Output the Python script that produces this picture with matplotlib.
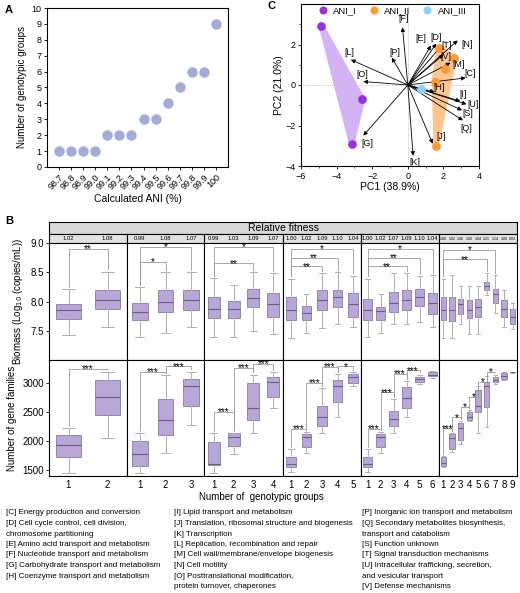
import numpy as np
import matplotlib
matplotlib.use("Agg")
import matplotlib.pyplot as plt
from matplotlib.patches import Polygon

plt.rcParams["font.family"] = ["Liberation Sans", "DejaVu Sans"]
plt.rcParams["axes.linewidth"] = 0.8

# ---------------- data ----------------
# panel A
ani_labels = ["98.7", "98.8", "98.9", "99.0", "99.1", "99.2", "99.3",
              "99.4", "99.5", "99.6", "99.7", "99.8", "99.9", "100"]
n_groups = [1, 1, 1, 1, 2, 2, 2, 3, 3, 4, 5, 6, 6, 9]

# panel C
ani1_pts = [(-4.85, 2.9), (-2.55, -0.7), (-3.15, -2.9)]
ani2_pts = [(1.75, 1.85), (2.6, 1.35), (2.1, 0.8), (1.5, 0.15), (1.6, -3.0)]
ani3_pts = [(0.75, -0.2)]
cog_codes = ["C", "D", "E", "F", "G", "H", "I", "J", "K", "L",
             "M", "N", "O", "P", "Q", "S", "T", "U", "V"]
load_x = [3.25, 1.6, 1.3, -0.3, -2.5, 1.5, 2.95, 1.4, 0.3, -3.2,
          2.4, 2.8, -2.5, -0.9, 3.1, 3.05, 1.85, 3.3, 2.0]
load_y = [0.35, 2.05, 1.95, 2.85, -2.5, -0.35, -0.8, -2.9, -3.5, 1.25,
          1.1, 2.2, 0.17, 1.35, -1.75, -1.25, 1.9, -0.95, 1.5]

# panel B: (whisker low, q1, median, q3, whisker high)
biomass = [
    [(7.43, 7.70, 7.85, 7.96, 8.21), (7.56, 7.87, 8.03, 8.20, 8.51)],
    [(7.40, 7.68, 7.82, 7.97, 8.25), (7.47, 7.82, 8.00, 8.20, 8.50),
     (7.57, 7.85, 8.02, 8.19, 8.50)],
    [(7.40, 7.72, 7.88, 8.08, 8.40), (7.40, 7.72, 7.87, 8.01, 8.28),
     (7.50, 7.90, 8.06, 8.22, 8.50), (7.45, 7.74, 7.96, 8.15, 8.48)],
    [(7.38, 7.69, 7.86, 8.07, 8.39), (7.47, 7.69, 7.81, 7.92, 8.12),
     (7.54, 7.85, 8.02, 8.19, 8.48), (7.62, 7.90, 8.07, 8.20, 8.50),
     (7.56, 7.74, 7.95, 8.14, 8.44)],
    [(7.40, 7.69, 7.86, 8.05, 8.39), (7.47, 7.69, 7.83, 7.91, 8.12),
     (7.62, 7.82, 7.98, 8.16, 8.48), (7.62, 7.86, 8.03, 8.19, 8.48),
     (7.65, 7.93, 8.07, 8.22, 8.43), (7.56, 7.78, 7.97, 8.14, 8.45)],
    [(7.38, 7.69, 7.86, 8.07, 8.39), (7.38, 7.66, 7.86, 8.07, 8.45),
     (7.62, 7.79, 7.95, 8.05, 8.27), (7.45, 7.71, 7.86, 8.03, 8.26),
     (7.45, 7.74, 7.90, 8.05, 8.27), (8.11, 8.19, 8.26, 8.34, 8.48),
     (7.81, 7.98, 8.12, 8.22, 8.45), (7.56, 7.74, 7.88, 8.03, 8.20),
     (7.53, 7.62, 7.74, 7.88, 7.98)],
]
gene_fam = [
    [(1460, 1720, 1930, 2100, 2230), (2060, 2450, 2770, 3050, 3200)],
    [(1460, 1580, 1780, 2010, 2150), (1800, 2100, 2370, 2720, 3140),
     (2280, 2610, 2960, 3080, 3200)],
    [(1460, 1590, 1610, 1980, 2140), (1780, 1910, 2080, 2140, 2150),
     (2140, 2370, 2580, 3010, 3150), (2570, 2760, 3020, 3100, 3190)],
    [(1470, 1550, 1600, 1720, 1860), (1790, 1900, 2080, 2120, 2160),
     (2140, 2260, 2410, 2600, 2910), (2410, 2670, 2960, 3050, 3160),
     (2950, 3000, 3100, 3160, 3190)],
    [(1470, 1550, 1600, 1720, 1860), (1790, 1900, 2080, 2120, 2160),
     (2140, 2260, 2380, 2520, 2720), (2410, 2570, 2740, 2930, 3030),
     (2980, 3020, 3070, 3100, 3150), (3090, 3120, 3150, 3190, 3210)],
    [(1560, 1570, 1620, 1720, 1740), (1820, 1860, 2050, 2120, 2140),
     (1950, 2020, 2220, 2310, 2350), (2340, 2360, 2410, 2500, 2530),
     (2150, 2500, 2600, 2880, 2960), (2240, 2590, 2960, 3020, 3120),
     (2990, 3020, 3060, 3100, 3150), (3050, 3070, 3120, 3170, 3190),
     (3180, 3185, 3190, 3195, 3200)],
]
fitness = [
    [1.02, 1.08],
    [0.99, 1.08, 1.07],
    [0.99, 1.03, 1.09, 1.07],
    [1.00, 1.02, 1.09, 1.10, 1.04],
    [1.00, 1.02, 1.07, 1.09, 1.10, 1.04],
    [1.00, 1.02, 1.06, 1.00, 1.04, 1.21, 1.14, 1.00, 0.93],
]
# significance: (group a, group b, bracket height, label)
sig_biomass = [
    [(1, 2, 8.90, "**")],
    [(1, 2, 8.68, "*"), (1, 3, 8.93, "*")],
    [(1, 3, 8.65, "**"), (1, 4, 8.93, "*")],
    [(1, 3, 8.60, "**"), (1, 4, 8.75, "**"), (1, 5, 8.90, "*")],
    [(1, 4, 8.60, "**"), (1, 5, 8.75, "**"), (1, 6, 8.90, "*")],
    [(1, 6, 8.72, "**"), (1, 7, 8.88, "*")],
]
sig_genes = [
    [(1, 2, 3240, "***")],
    [(1, 2, 3190, "***"), (2, 3, 3290, "***")],
    [(1, 2, 2500, "***"), (2, 3, 3260, "***"), (3, 4, 3330, "***")],
    [(1, 2, 2210, "***"), (2, 3, 3000, "***"), (3, 4, 3280, "***"), (4, 5, 3290, "*")],
    [(1, 2, 2210, "***"), (2, 3, 2840, "***"), (3, 4, 3160, "***"), (4, 5, 3220, "***")],
    [(1, 2, 2220, "***"), (2, 3, 2410, "*"), (3, 4, 2590, "*"), (4, 5, 2760, "*"),
     (5, 6, 3020, "*"), (6, 7, 3190, "*")],
]

cog_desc_1 = ["[C] Energy production and conversion",
              "[D] Cell cycle control, cell division,",
              "chromosome partitioning",
              "[E] Amino acid transport and metabolism",
              "[F] Nucleotide transport and metabolism",
              "[G] Carbohydrate transport and metabolism",
              "[H] Coenzyme transport and metabolism"]
cog_desc_2 = ["[I] Lipid transport and metabolism",
              "[J] Translation, ribosomal structure and biogenesis",
              "[K] Transcription",
              "[L] Replication, recombination and repair",
              "[M] Cell wall/membrane/envelope biogenesis",
              "[N] Cell motility",
              "[O] Posttranslational modification,",
              "protein turnover, chaperones"]
cog_desc_3 = ["[P] Inorganic ion transport and metabolism",
              "[Q] Secondary metabolites biosynthesis,",
              "transport and catabolism",
              "[S] Function unknown",
              "[T] Signal transduction mechanisms",
              "[U] Intracellular trafficking, secretion,",
              "and vesicular transport",
              "[V] Defense mechanisms"]

# ---------------- layout helpers ----------------
W, H = 520, 593
fig = plt.figure(figsize=(W / 100, H / 100), dpi=100)


def box(x0, y0, x1, y1):
    return [x0 / W, 1 - y1 / H, (x1 - x0) / W, (y1 - y0) / H]


def convex_hull(pts):
    pts = sorted(set(pts))
    if len(pts) < 3:
        return pts
    def cross(o, a, b):
        return (a[0] - o[0]) * (b[1] - o[1]) - (a[1] - o[1]) * (b[0] - o[0])
    lower, upper = [], []
    for p in pts:
        while len(lower) >= 2 and cross(lower[-2], lower[-1], p) <= 0:
            lower.pop()
        lower.append(p)
    for p in reversed(pts):
        while len(upper) >= 2 and cross(upper[-2], upper[-1], p) <= 0:
            upper.pop()
        upper.append(p)
    return lower[:-1] + upper[:-1]


fs = 6.5

# ---------------- panel A ----------------
axA = fig.add_axes(box(47, 8, 228, 167))
xa = np.arange(len(ani_labels))
axA.scatter(xa, n_groups, s=42, color="#a3abd9", zorder=3)
axA.set_xlim(-1, len(ani_labels))
axA.set_ylim(0, 10)
axA.set_yticks(range(0, 11))
axA.set_xticks(xa)
axA.set_xticklabels(ani_labels, rotation=45, ha="right", rotation_mode="anchor")
axA.tick_params(labelsize=fs, length=2.5, width=0.6, pad=1.5)
axA.set_xlabel("Calculated ANI (%)", fontsize=7.5, labelpad=2)
axA.set_ylabel("Number of genotypic groups", fontsize=7, labelpad=3)
fig.text(5 / W, 1 - 10 / H, "A", fontsize=8, fontweight="bold", va="center")

# ---------------- panel C ----------------
axC = fig.add_axes(box(301, 4, 479, 166))
axC.set_xlim(-6, 4)
axC.set_ylim(-4, 4)
axC.axhline(0, color="#aaaaaa", lw=0.6, ls=":", zorder=0)
axC.axvline(0, color="#aaaaaa", lw=0.6, ls=":", zorder=0)
for pts, col in [(ani1_pts, "#d4b3f5"), (ani2_pts, "#ffc58e")]:
    hull = convex_hull(pts)
    axC.add_patch(Polygon(hull, closed=True, facecolor=col, edgecolor=col,
                          lw=4, joinstyle="round", zorder=1))
axC.scatter(*zip(*ani1_pts), s=28, color="#9933dd", zorder=4, label="ANI_I")
axC.scatter(*zip(*ani2_pts), s=28, color="#ff9933", zorder=4, label="ANI_II")
axC.scatter(*zip(*ani3_pts), s=28, color="#88d4f5", zorder=4, label="ANI_III")

label_off = {"C": (3, 3), "D": (0, 4), "E": (-7, 5), "F": (1, 6), "G": (3, -6),
             "H": (3, 3), "I": (2, 5), "J": (6, 5), "K": (1, -5), "L": (-1, 5),
             "M": (6, -1), "N": (7, -3), "O": (-1, 5), "P": (2, 4), "Q": (2, -6),
             "S": (4, -2), "T": (4, 1), "U": (5, 0), "V": (2, -1)}
for code, lx, ly in zip(cog_codes, load_x, load_y):
    axC.annotate("", xy=(lx, ly), xytext=(0, 0),
                 arrowprops=dict(arrowstyle="-|>", lw=0.6, color="black",
                                 mutation_scale=6, shrinkA=0, shrinkB=0), zorder=3)
    dx, dy = label_off[code]
    axC.annotate(f"[{code}]", xy=(lx, ly), xytext=(dx, dy), textcoords="offset points",
                 fontsize=6.3, ha="center", va="center", zorder=5)
axC.set_xticks([-6, -4, -2, 0, 2, 4])
axC.set_yticks([-4, -2, 0, 2])
axC.set_xticks(np.arange(-5, 4, 2), minor=True)
axC.set_yticks(np.arange(-3, 4, 2), minor=True)
axC.tick_params(labelsize=fs, length=2.5, width=0.6, pad=1.5)
axC.tick_params(which="minor", length=1.5, width=0.5)
axC.set_xlabel("PC1 (38.9%)", fontsize=7.5, labelpad=1)
axC.set_ylabel("PC2 (21.0%)", fontsize=7.5, labelpad=1)
axC.legend(loc="upper center", bbox_to_anchor=(0.5, 1.03), ncol=3, frameon=False,
           fontsize=6.8, handletextpad=0.1, columnspacing=0.8, markerscale=0.9,
           borderpad=0.2)
fig.text(268 / W, 1 - 6 / H, "C", fontsize=8, fontweight="bold", va="center")

# ---------------- panel B ----------------
fig.text(5 / W, 1 - 221 / H, "B", fontsize=8, fontweight="bold", va="center")
col_edges = [49, 127, 204, 283, 361, 439, 517]

axH = fig.add_axes(box(49, 222, 517, 234))
axH.set_facecolor("#d9d9d9")
axH.set_xticks([])
axH.set_yticks([])
axH.text(0.5, 0.5, "Relative fitness", ha="center", va="center", fontsize=7.5,
         transform=axH.transAxes)


def draw_boxes(ax, stats_list):
    stats = [dict(whislo=s[0], q1=s[1], med=s[2], q3=s[3], whishi=s[4], fliers=[])
             for s in stats_list]
    ax.bxp(stats, positions=range(1, len(stats) + 1), widths=0.62, patch_artist=True,
           showfliers=False,
           boxprops=dict(facecolor="#b8a6d6", edgecolor="#8a78aa", lw=0.6),
           medianprops=dict(color="#6d5a8e", lw=0.8),
           whiskerprops=dict(color="#b0b0b0", lw=0.7),
           capprops=dict(color="#b0b0b0", lw=0.7), capwidths=0.35)


def draw_sig(ax, stats_list, sig, span):
    gap = span * 0.02
    for a, b, h, lab in sig:
        ya = stats_list[a - 1][4] + gap
        yb = stats_list[b - 1][4] + gap
        ax.plot([a, a, b, b], [ya, h, h, yb], color="#999999", lw=0.6)
        ax.text((a + b) / 2, h - span * 0.045, lab, ha="center", va="bottom",
                fontsize=7.2)


for i in range(6):
    n = len(fitness[i])
    x0, x1 = col_edges[i], col_edges[i + 1]

    axF = fig.add_axes(box(x0, 234, x1, 243))
    axF.set_facecolor("#e3e3e3")
    axF.set_xlim(0.5, n + 0.5)
    axF.set_ylim(0, 1)
    axF.set_xticks([])
    axF.set_yticks([])
    fsz = 4.2 if n < 9 else 2.6
    for k, v in enumerate(fitness[i]):
        axF.text(k + 1, 0.5, f"{v:.2f}", ha="center", va="center", fontsize=fsz)

    axT = fig.add_axes(box(x0, 243, x1, 360))
    draw_boxes(axT, biomass[i])
    draw_sig(axT, biomass[i], sig_biomass[i], 2.0)
    axT.set_xlim(0.5, n + 0.5)
    axT.set_ylim(7.0, 9.0)
    axT.set_xticks([])
    axT.set_yticks([7.5, 8.0, 8.5, 9.0])
    axT.tick_params(length=2, width=0.6, labelsize=7, pad=1.5)

    axB = fig.add_axes(box(x0, 360, x1, 476))
    draw_boxes(axB, gene_fam[i])
    draw_sig(axB, gene_fam[i], sig_genes[i], 2000)
    axB.set_xlim(0.5, n + 0.5)
    axB.set_ylim(1400, 3400)
    axB.set_xticks(range(1, n + 1))
    axB.set_yticks([1500, 2000, 2500, 3000])
    axB.tick_params(length=2, width=0.6, labelsize=7, pad=1.5)
    axB.tick_params(axis="x", length=0, pad=3)

    if i == 0:
        axT.set_yticklabels(["7.5", "8.0", "8.5", "9.0"])
        axT.set_ylabel("Biomass (Log$_{10}$ (copies/mL))", fontsize=7, labelpad=4)
        axB.set_ylabel("Number of gene families", fontsize=7, labelpad=4)
    else:
        axT.tick_params(axis="y", left=False, labelleft=False)
        axB.tick_params(axis="y", left=False, labelleft=False)

fig.text(261 / W, 1 - 497 / H, "Number of  genotypic groups", ha="center",
         va="center", fontsize=7)

# ---------------- COG legend text ----------------
for xs, lines in [(6, cog_desc_1), (174, cog_desc_2), (362, cog_desc_3)]:
    for k, line in enumerate(lines):
        fig.text(xs / W, 1 - (513 + 10.5 * k) / H, line, ha="left", va="center",
                 fontsize=5.8)

fig.savefig("out.png", dpi=100)
